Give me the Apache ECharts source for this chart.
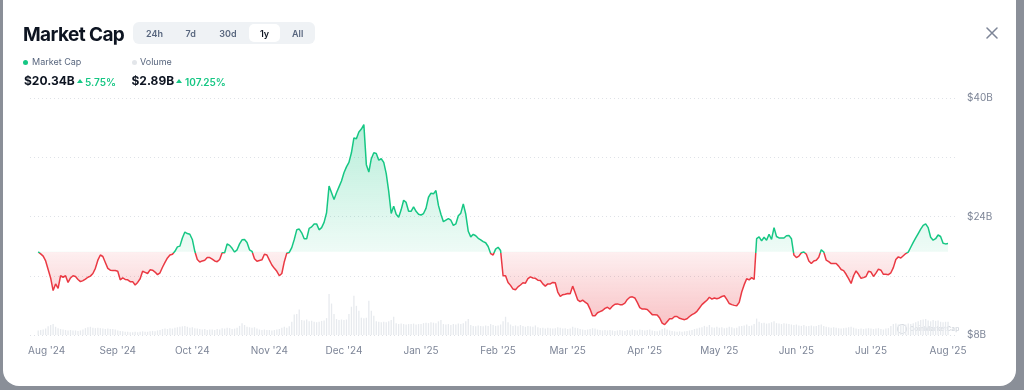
<!DOCTYPE html>
<html>
<head>
<meta charset="utf-8">
<script src="https://cdn.jsdelivr.net/npm/echarts@6/dist/echarts.min.js"></script>
<style>
html,body{margin:0;padding:0;width:1024px;height:390px;overflow:hidden;background:#8a8f98;font-family:Inter,'Noto Sans',sans-serif;}
#card{position:absolute;left:3px;top:-20px;width:1013px;height:406px;background:#fff;border-radius:16px;}
#chart{position:absolute;left:0;top:0;width:1024px;height:390px;}
.abs{position:absolute;white-space:nowrap;}
.title{left:23px;top:25px;font-size:19px;line-height:19px;font-weight:700;color:#0d1421;letter-spacing:-0.6px;}
.tabs{left:133px;top:22px;width:182px;height:22px;background:#eff2f5;border-radius:6px;}
.pill{left:249px;top:24px;width:31px;height:18px;background:#fff;border-radius:5px;}
.tab{top:29px;font-size:9px;line-height:9px;font-weight:600;color:#58667e;transform:translateX(-50%);}
.tab.sel{color:#0d1421;}
.leg{top:57px;font-size:9px;line-height:9px;color:#58667e;}
.dot{width:5px;height:5px;border-radius:50%;}
.val{top:75px;font-size:12px;line-height:12px;font-weight:700;color:#0d1421;}
.pct{top:76.5px;font-size:10px;line-height:10px;font-weight:600;color:#16c784;}
.tri{width:0;height:0;border-left:3px solid transparent;border-right:3px solid transparent;border-bottom:4px solid #16c784;}
</style>
</head>
<body>
<div id="card"></div>
<div id="chart"></div>
<div class="abs title">Market Cap</div>
<div class="abs tabs"></div>
<div class="abs pill"></div>
<div class="abs tab" style="left:154.5px">24h</div>
<div class="abs tab" style="left:190.7px">7d</div>
<div class="abs tab" style="left:228px">30d</div>
<div class="abs tab sel" style="left:264.5px">1y</div>
<div class="abs tab" style="left:297.7px">All</div>
<div class="abs dot" style="left:23px;top:59.5px;background:#16c784"></div>
<div class="abs leg" style="left:32px">Market Cap</div>
<div class="abs dot" style="left:132px;top:59.5px;background:#e3e6ea"></div>
<div class="abs leg" style="left:140px">Volume</div>
<div class="abs val" style="left:24px">$20.34B</div>
<div class="abs tri" style="left:77px;top:79px"></div>
<div class="abs pct" style="left:85px">5.75%</div>
<div class="abs val" style="left:131.5px">$2.89B</div>
<div class="abs tri" style="left:176px;top:79px"></div>
<div class="abs pct" style="left:185px">107.25%</div>
<svg class="abs" style="left:986px;top:27px" width="12" height="12" viewBox="0 0 12 12"><path d="M1 1L11 11M11 1L1 11" stroke="#7d8597" stroke-width="1.5" stroke-linecap="round"/></svg>
<script>
// first date of the series: 31 Jul 2024 (one value per day)
const startYear = 2024, startMonth = 6, startDay = 31;

// Market cap, $B, one value per day
const marketCap = [
  19.23,
  // Aug 2024
  18.95,18.65,18.0,16.85,15.7,14.0,14.9,14.3,16.0,15.8,16.0,15.1,15.7,16.0,15.9,15.5,15.2,15.35,15.55,15.8,15.95,16.3,17.0,18.1,18.8,18.6,17.8,17.0,16.75,16.7,16.7,
  // Sep 2024
  16.6,15.45,15.7,15.5,15.45,15.2,15.2,14.75,15.1,15.6,16.6,16.45,16.3,16.8,16.75,16.5,16.15,16.4,17.15,17.8,18.4,18.8,18.9,19.3,19.9,20.0,21.1,21.9,21.7,21.6,
  // Oct 2024
  20.9,19.3,18.2,17.85,18.0,18.1,18.45,18.45,18.25,18.0,17.9,18.2,19.1,19.1,20.3,20.1,19.7,19.2,19.5,20.3,20.85,20.9,20.5,19.5,19.3,18.3,17.95,18.05,18.15,18.9,18.8,
  // Nov 2024
  18.1,17.45,17.0,16.6,16.0,16.3,17.9,19.05,19.15,19.8,20.9,22.2,22.3,21.8,21.0,21.0,22.4,22.6,23.0,23.0,22.2,22.5,23.2,24.5,28.1,27.2,26.3,27.2,28.0,28.8,
  // Dec 2024
  29.9,30.7,31.3,32.6,34.6,34.5,35.4,35.8,36.4,31.0,30.0,31.8,32.6,32.5,31.6,31.8,31.3,29.8,27.4,24.4,25.4,24.3,23.9,24.9,26.2,25.9,24.7,24.7,25.3,24.7,24.3,
  // Jan 2025
  24.2,24.4,25.1,26.6,27.15,27.06,27.5,25.5,24.3,23.3,23.5,23.7,23.5,22.8,23.0,24.1,24.45,25.7,24.3,22.0,21.25,21.6,21.4,21.05,20.85,20.6,20.45,19.95,19.0,18.8,19.6,
  // Feb 2025
  19.85,19.4,16.0,16.0,15.1,14.7,14.2,14.1,14.5,14.75,15.05,15.0,15.6,15.85,15.7,15.65,15.4,15.35,14.9,14.6,14.9,14.9,15.1,15.05,13.8,13.2,13.45,13.5,
  // Mar 2025
  13.6,13.56,14.6,13.7,12.75,12.5,12.7,12.45,12.2,11.5,10.6,10.6,11.0,11.15,11.3,11.6,11.75,11.5,11.9,12.15,12.2,12.1,12.1,12.3,12.8,13.1,13.15,13.0,12.4,11.7,11.5,
  // Apr 2025
  11.5,11.45,11.1,10.75,10.73,10.7,10.3,9.6,9.4,9.8,10.2,10.2,10.5,10.5,10.25,10.15,10.07,10.2,10.5,10.75,10.93,11.2,11.65,12.1,12.4,12.7,13.1,12.85,13.0,12.9,
  // May 2025
  13.0,13.2,13.3,12.8,12.25,12.1,12.0,11.95,12.4,13.8,14.8,15.6,15.45,15.75,15.5,21.0,21.25,20.7,21.2,20.8,21.6,20.9,22.5,21.3,21.1,21.1,21.1,21.4,21.45,21.0,18.8,
  // Jun 2025
  18.45,18.65,19.1,19.2,18.9,18.0,17.65,18.0,18.1,18.5,19.5,19.2,18.1,17.9,17.65,17.65,17.65,17.3,16.85,16.7,16.2,15.6,14.95,16.0,16.65,16.2,15.65,15.75,15.9,16.6,
  // Jul 2025
  16.5,15.9,16.35,16.9,16.75,16.2,16.2,16.15,16.4,17.1,18.2,18.55,18.4,18.7,19.0,19.2,19.85,20.5,21.1,21.7,22.3,22.8,23.0,22.5,21.2,20.8,21.0,21.5,21.3,20.4,20.3,
  // 1 Aug 2025
  20.34
];

// 24h volume, $B, one value per day
const volume = [
  1.0,
  1.1,1.2,1.4,1.9,2.2,2.4,1.8,1.5,1.3,1.2,1.1,1.0,1.1,1.0,1.0,0.9,1.0,1.2,1.5,1.7,1.8,1.6,1.5,1.6,1.5,1.4,1.3,1.4,1.3,1.3,1.2,
  1.0,0.9,0.8,0.7,0.7,0.6,0.6,0.7,0.6,0.7,0.8,0.7,0.7,0.8,0.9,0.8,1.0,1.1,1.3,1.4,1.3,1.5,1.4,1.6,1.7,1.8,1.9,2.0,1.8,1.6,
  1.7,1.5,1.4,1.3,1.2,1.3,1.1,1.2,1.2,1.1,1.3,1.2,1.5,1.4,1.6,1.5,1.3,1.4,1.6,2.0,2.6,2.2,1.8,1.7,1.6,1.7,1.4,1.2,1.1,1.2,1.1,
  1.1,1.0,1.1,1.2,1.3,1.6,1.8,1.6,1.9,2.9,4.5,4.6,5.6,3.3,3.2,3.4,3.0,3.1,2.9,2.8,2.9,3.1,3.2,3.7,9.0,6.9,4.6,3.5,3.3,3.4,
  3.3,3.4,4.6,6.2,8.6,6.4,5.3,3.8,3.7,3.8,7.5,5.3,4.2,3.0,2.9,2.8,2.9,2.8,3.0,3.3,4.0,2.6,2.4,2.5,2.4,2.3,2.4,2.4,2.5,2.3,2.4,
  2.4,2.6,2.7,2.6,2.8,2.7,2.6,3.0,3.3,2.4,2.3,2.4,2.2,2.4,2.3,2.5,2.4,2.6,3.0,3.5,2.2,2.0,1.9,2.1,2.0,1.9,2.1,2.0,2.4,2.2,2.0,
  2.1,2.3,3.0,4.0,2.8,2.3,2.0,2.1,1.9,2.2,2.0,1.8,2.0,1.9,1.8,2.1,1.7,1.5,1.6,1.4,1.6,1.5,1.4,1.5,1.7,1.6,1.4,1.5,
  1.3,1.4,1.8,1.6,1.5,1.3,1.2,1.1,1.2,1.3,1.5,1.4,1.2,1.1,1.0,1.1,1.0,1.1,1.0,0.9,1.0,1.1,1.0,0.9,1.1,1.0,1.2,1.1,1.0,1.2,1.1,
  1.0,1.1,1.2,1.0,0.9,0.8,1.0,1.3,1.5,1.2,1.0,0.9,0.8,0.7,0.8,0.7,0.8,0.9,1.0,1.1,1.3,1.4,1.6,1.7,2.0,1.8,2.2,1.7,1.6,1.8,
  1.6,1.7,1.5,1.6,1.8,1.7,1.5,1.6,1.9,2.0,2.1,2.3,2.0,2.1,2.4,3.6,2.9,2.6,2.7,2.5,2.6,2.8,3.0,2.6,2.5,2.4,2.6,2.5,2.4,2.3,2.2,
  2.3,2.1,2.0,2.2,1.9,2.0,2.1,1.9,2.0,2.2,2.3,2.0,1.8,1.7,1.6,1.7,1.6,1.5,1.4,1.5,1.6,1.7,1.8,1.6,1.4,1.3,1.4,1.3,1.4,1.5,
  1.4,1.3,1.4,1.5,1.3,1.2,1.4,1.5,2.0,2.4,2.5,2.3,2.4,2.2,2.3,2.5,2.4,2.6,2.8,3.0,3.3,3.4,3.5,3.2,3.0,3.3,3.1,3.2,2.9,2.8,2.9,
  2.89
];

// x-axis month labels
const monthTicks = ['2024-08-01','2024-09-01','2024-10-01','2024-11-01','2024-12-01','2025-01-01','2025-02-01','2025-03-01','2025-04-01','2025-05-01','2025-06-01','2025-07-01','2025-08-01'];
const monthNames = ['Jan','Feb','Mar','Apr','May','Jun','Jul','Aug','Sep','Oct','Nov','Dec'];
// y-axis ticks and labels ($B)
const yTicks = [8, 16, 24, 32, 40];
const yTickLabels = ['$8B', '', '$24B', '', '$40B'];

const GREEN = '#16c784', RED = '#ea3943';
const DAY = 86400000;
const dates = marketCap.map((_, i) => new Date(startYear, startMonth, startDay + i).getTime());
const capData = dates.map((t, i) => [t, marketCap[i]]);
const volData = dates.map((t, i) => [t, volume[i]]);
const base = marketCap[0];
const vMax = Math.max(...marketCap), vMin = Math.min(...marketCap);
const baseOff = (vMax - base) / (vMax - vMin);
const tickTimes = monthTicks.map(s => { const p = s.split('-').map(Number); return new Date(p[0], p[1] - 1, p[2]).getTime(); });

const chart = echarts.init(document.getElementById('chart'), null, {renderer: 'canvas'});
chart.setOption({
  animation: false,
  backgroundColor: 'transparent',
  grid: {left: 30, right: 69, top: 98, bottom: 55, outerBoundsMode: 'none'},
  xAxis: {
    type: 'value',
    min: dates[0] - 3.3 * DAY,
    max: dates[dates.length - 1] + 2.8 * DAY,
    axisLine: {show: false}, axisTick: {show: false}, splitLine: {show: false},
    axisLabel: {
      customValues: tickTimes,
      hideOverlap: false,
      margin: 11,
      color: '#7d8597', fontSize: 10, fontFamily: 'Inter',
      formatter: function (v) {
        const d = new Date(v);
        const s = monthNames[d.getMonth()] + " '" + String(d.getFullYear()).slice(2);
        return v === tickTimes[0] ? '{first|' + s + '}' : s;
      },
      rich: {first: {padding: [0, 0, 0, 12], color: '#7d8597', fontSize: 10, fontFamily: 'Inter'}}
    }
  },
  yAxis: [{
    type: 'value', position: 'right', min: yTicks[0], max: yTicks[yTicks.length - 1], interval: yTicks[1] - yTicks[0],
    axisLine: {show: false}, axisTick: {show: false},
    splitLine: {show: true, lineStyle: {type: [1, 3], color: '#dfe2e7', width: 1}},
    axisLabel: {
      margin: 12, color: '#7d8597', fontSize: 10, fontFamily: 'Inter',
      formatter: v => yTickLabels[yTicks.indexOf(v)] || ''
    }
  }, {
    type: 'value', min: 0, max: 52, show: false, splitLine: {show: false}
  }],
  series: [{
    type: 'bar', yAxisIndex: 1, data: volData, barWidth: 1.3, silent: true,
    itemStyle: {color: '#e7eaee'}
  }, {
    type: 'line', data: capData, showSymbol: false, symbol: 'none', silent: true,
    lineStyle: {
      width: 1.5,
      color: new echarts.graphic.LinearGradient(0, 0, 0, 1, [
        {offset: 0, color: GREEN},
        {offset: baseOff, color: GREEN},
        {offset: baseOff, color: RED},
        {offset: 1, color: RED}
      ])
    },
    areaStyle: {
      origin: base,
      opacity: 1,
      color: new echarts.graphic.LinearGradient(0, 0, 0, 1, [
        {offset: 0, color: 'rgba(22,199,132,0.30)'},
        {offset: baseOff - 0.001, color: 'rgba(22,199,132,0.07)'},
        {offset: baseOff, color: 'rgba(234,57,67,0.08)'},
        {offset: 1, color: 'rgba(234,57,67,0.30)'}
      ])
    }
  }],
  graphic: [
    {type: 'circle', shape: {cx: 902, cy: 329, r: 4.5}, style: {fill: 'none', stroke: '#d6dae0', lineWidth: 1.2}, silent: true},
    {type: 'text', x: 909.5, y: 329, style: {text: 'CoinMarketCap', fill: '#d6dae0', font: 'bold 6.5px Inter', verticalAlign: 'middle'}, silent: true}
  ]
});
</script>
</body>
</html>
